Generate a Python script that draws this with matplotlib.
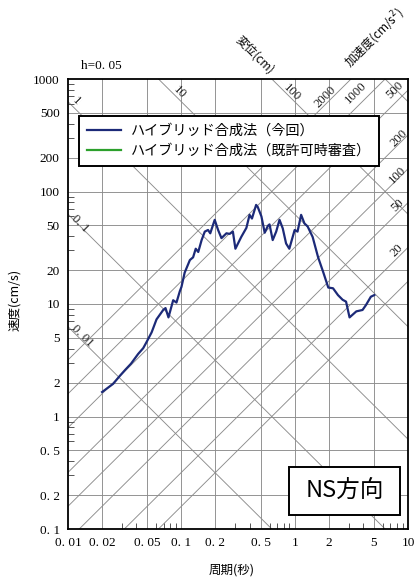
import numpy as np
import matplotlib
matplotlib.use('Agg')
import matplotlib.pyplot as plt
from matplotlib.lines import Line2D
from matplotlib.patches import Rectangle
from matplotlib.ticker import LogLocator, FixedLocator, FixedFormatter, NullFormatter

plt.rcParams['font.family'] = ['Noto Sans CJK JP', 'DejaVu Sans']

# --- data ---
period = [0.02, 0.025, 0.0287, 0.032, 0.036, 0.0416, 0.0461, 0.0494, 0.0547, 0.0604,
          0.0692, 0.0725, 0.077, 0.0847, 0.0906, 0.097, 0.1003, 0.107, 0.119, 0.127,
          0.134, 0.141, 0.151, 0.161, 0.172, 0.180, 0.197, 0.211, 0.226, 0.25,
          0.267, 0.285, 0.30, 0.338, 0.375, 0.40, 0.42, 0.457, 0.472, 0.509,
          0.544, 0.58, 0.60, 0.64, 0.687, 0.735, 0.785, 0.84, 0.897, 1.0,
          1.06, 1.14, 1.22, 1.30, 1.44, 1.61, 1.78, 1.98, 2.18, 2.41,
          2.65, 2.84, 3.05, 3.5, 3.97, 4.26, 4.7, 5.04]
velocity = [1.65, 1.95, 2.3, 2.6, 2.95, 3.6, 4.05, 4.6, 5.6, 7.3,
            8.85, 9.2, 7.6, 10.8, 10.3, 13.0, 14.2, 19.0, 24.6, 26.0,
            31.0, 29.0, 37.0, 44.0, 45.5, 42.5, 56.0, 45.5, 38.5, 42.5,
            42.0, 44.0, 31.0, 39.5, 47.5, 62.0, 57.5, 76.0, 73.0, 60.0,
            43.0, 49.5, 51.0, 37.0, 44.0, 56.0, 47.0, 34.5, 31.0, 45.5,
            44.0, 62.0, 52.0, 49.0, 39.5, 26.0, 19.4, 14.0, 13.8, 12.0,
            10.9, 10.5, 7.6, 8.6, 8.85, 9.8, 11.6, 12.0]

disp_lines = [0.01, 0.1, 1, 10, 100, 1000]
acc_lines = [10, 20, 50, 100, 200, 500, 1000, 2000]

x_ticks = [0.01, 0.02, 0.05, 0.1, 0.2, 0.5, 1, 2, 5, 10]
x_labels = ['0. 01', '0. 02', '0. 05', '0. 1', '0. 2', '0. 5', '1', '2', '5', '10']
y_ticks = [0.1, 0.2, 0.5, 1, 2, 5, 10, 20, 50, 100, 200, 500, 1000]
y_labels = ['0. 1', '0. 2', '0. 5', '1', '2', '5', '10', '20', '50', '100', '200', '500', '1000']

# label positions (period, velocity) for the diagonal scales
disp_labels = [('1', 0.0118, 640), ('10', 0.097, 760), ('100', 0.94, 760),
               ('0. 1', 0.0128, 52), ('0. 01', 0.0133, 5.2)]
acc_labels = [('2000', 1.88, 690), ('1000', 3.44, 760), ('500', 7.6, 790),
              ('200', 8.3, 300), ('100', 8.1, 140), ('50', 8.1, 76), ('20', 7.9, 30)]

serif = 'Liberation Serif'
grid_col = '#8c8c8c'

fig = plt.figure(figsize=(4.15, 5.82), dpi=100)
ax = fig.add_axes([68/415, 1-529/582, 340/415, 450/582])
ax.set_xscale('log')
ax.set_yscale('log')
ax.set_xlim(0.01, 10)
ax.set_ylim(0.1, 1000)

# grid
for t in x_ticks[1:-1]:
    ax.axvline(t, color=grid_col, lw=0.65, zorder=1)
for v in y_ticks[1:-1]:
    ax.axhline(v, color=grid_col, lw=0.65, zorder=1)

# tripartite diagonals
tt = np.logspace(-3, 2, 200)
for d in disp_lines:
    ax.plot(tt, 2*np.pi*d/tt, color=grid_col, lw=0.65, zorder=1)
for a in acc_lines:
    ax.plot(tt, a*tt/(2*np.pi), color=grid_col, lw=0.65, zorder=1)

for txt, t, v in disp_labels:
    ax.text(t, v, txt, rotation=-45, fontsize=9.2, family=serif, color='#222222',
            ha='center', va='center', rotation_mode='anchor', zorder=2)
for txt, t, v in acc_labels:
    ax.text(t, v, txt, rotation=45, fontsize=9.2, family=serif, color='#222222',
            ha='center', va='center', rotation_mode='anchor', zorder=2)

# spectrum
ax.plot(period, velocity, color='#1c2a78', lw=1.6, zorder=4)

# ticks
ax.xaxis.set_major_locator(FixedLocator(x_ticks))
ax.xaxis.set_major_formatter(FixedFormatter(x_labels))
ax.yaxis.set_major_locator(FixedLocator(y_ticks))
ax.yaxis.set_major_formatter(FixedFormatter(y_labels))
ax.xaxis.set_minor_locator(LogLocator(base=10, subs=(3, 4, 6, 7, 8, 9)))
ax.yaxis.set_minor_locator(LogLocator(base=10, subs=(3, 4, 6, 7, 8, 9)))
ax.xaxis.set_minor_formatter(NullFormatter())
ax.yaxis.set_minor_formatter(NullFormatter())
ax.tick_params(which='major', length=0, pad=6, labelsize=9.5)
ax.tick_params(which='minor', direction='in', length=4, width=0.7, color='#555555')
for lab in ax.get_xticklabels() + ax.get_yticklabels():
    lab.set_family(serif)
for s in ax.spines.values():
    s.set_linewidth(1.3)

# legend
handles = [Line2D([], [], color='#1c2a78', lw=1.6),
           Line2D([], [], color='#2ca02c', lw=1.6)]
leg = ax.legend(handles, ['ハイブリッド合成法（今回）', 'ハイブリッド合成法（既許可時審査）'],
                loc='upper left', bbox_to_anchor=(0.032, 0.918), borderaxespad=0,
                fontsize=10.2, frameon=True, fancybox=False, framealpha=1,
                edgecolor='black', handlelength=2.4, borderpad=0.55,
                labelspacing=0.45, handletextpad=0.7)
leg.get_frame().set_linewidth(1.4)
leg.set_zorder(6)

# NS box
ax.add_patch(Rectangle((0.650, 0.031), 0.326, 0.107, transform=ax.transAxes,
                       facecolor='white', edgecolor='black', lw=1.4, zorder=6))
ax.text(0.813, 0.085, 'NS方向', transform=ax.transAxes, fontsize=17,
        ha='center', va='center', zorder=7)

# outer texts
fig.text(101/415, 1-66/582, 'h=0. 05', family=serif, fontsize=9.5, ha='center', va='center')
fig.text(255/415, 1-55/582, '変位(cm)', fontsize=8.5, rotation=-45, ha='center', va='center')
fig.text(375/415, 1-38/582, '加速度(cm/s$^2$)', fontsize=8.5, rotation=45, ha='center', va='center')
fig.text(15/415, 1-300/582, '速度(cm/s)', fontsize=9, rotation=90, ha='center', va='center')
fig.text(232/415, 1-570/582, '周期(秒)', fontsize=9, ha='center', va='center')

fig.savefig('out.png', dpi=100)
